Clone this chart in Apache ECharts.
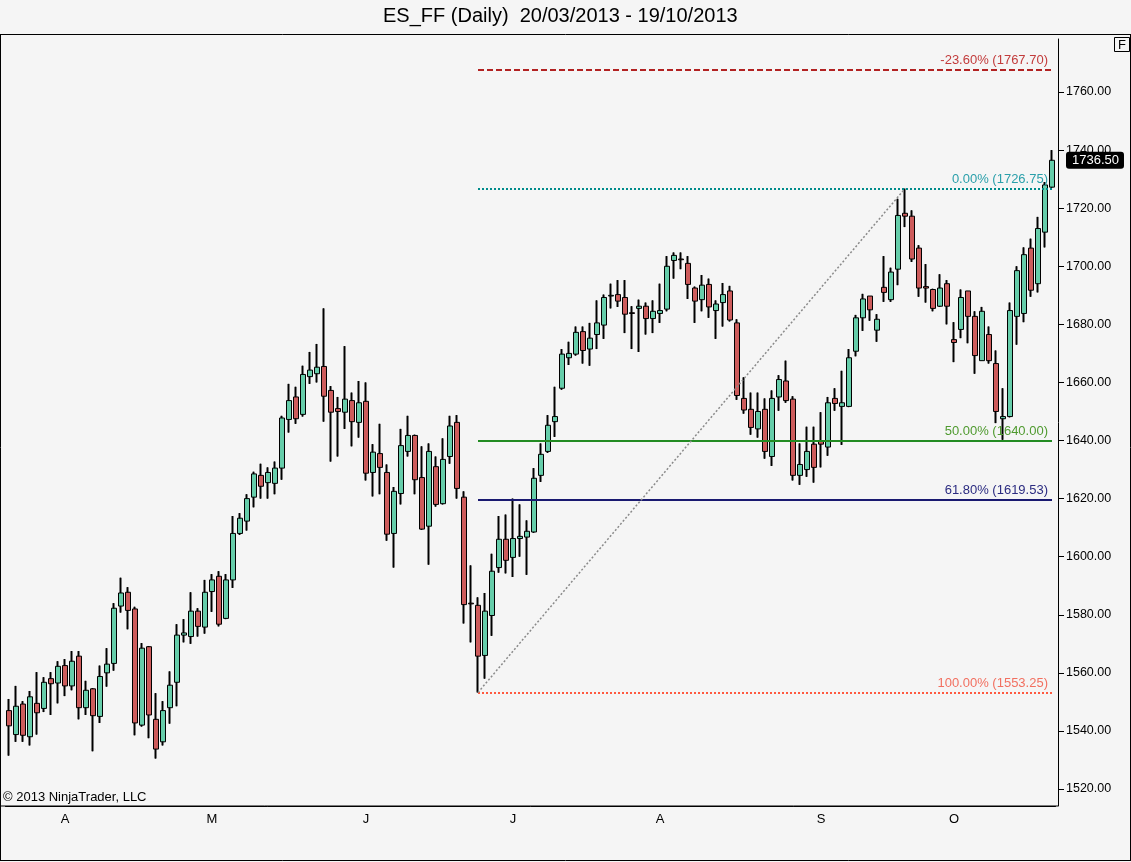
<!DOCTYPE html>
<html>
<head>
<meta charset="utf-8">
<title>ES_FF (Daily)</title>
<script src="https://cdn.jsdelivr.net/npm/echarts@6/dist/echarts.min.js"></script>
<style>
  html, body { margin: 0; padding: 0; background: #f5f5f5; }
  #chart { width: 1131px; height: 862px; }
</style>
</head>
<body>
<div id="chart"></div>
<script>
// daily OHLC, 20/03/2013 .. 18/10/2013
const opens = [
  1547, 1538.75, 1549.25, 1538, 1549.5, 1547.75, 1558, 1556.5, 1562.5, 1555.5,
  1565.75, 1548, 1554.5, 1545, 1560, 1563.25, 1583, 1587.75, 1582, 1542,
  1569, 1544, 1536.25, 1548, 1556.75, 1573, 1572.5, 1581.25, 1575.75, 1588,
  1593.25, 1578.75, 1592, 1608, 1612.25, 1620.5, 1628, 1625.5, 1625.25, 1630.5,
  1647.25, 1655, 1649, 1662, 1663, 1665.5, 1657.25, 1651, 1649.75, 1653.75,
  1646.25, 1653.5, 1629, 1635.5, 1629, 1608, 1621.75, 1636.25, 1641.75, 1627.25,
  1610.5, 1631, 1618.25, 1634.5, 1646.25, 1620.5, 1584, 1583.25, 1566, 1579.75,
  1596.25, 1606, 1599.75, 1606.25, 1606.75, 1608.5, 1628, 1636.25, 1646.5, 1658,
  1668.5, 1669.75, 1677.5, 1671.5, 1676.5, 1679.75, 1689.75, 1690.25, 1689.25, 1684,
  1685.5, 1686.25, 1682, 1683.75, 1685.25, 1702, 1702.5, 1701, 1692.5, 1688.5,
  1693.75, 1684.75, 1687.5, 1691.5, 1680.5, 1654.5, 1650.75, 1644, 1650.75, 1634.5,
  1655, 1660.5, 1654.25, 1628, 1630, 1638.75, 1640, 1637.75, 1654.5, 1651.75,
  1651.75, 1670.75, 1682.25, 1689.75, 1678, 1692.75, 1688.5, 1699, 1718.25, 1717.25,
  1706.25, 1693, 1692, 1686.25, 1694, 1674.75, 1678.25, 1691.5, 1682.75, 1667.5,
  1676.5, 1666.5, 1647.5, 1648.25, 1682.75, 1683.75, 1706.25, 1694, 1711.75, 1727.25
];
const highs = [
  1551, 1555.5, 1550.25, 1553.75, 1560.25, 1558.5, 1560.25, 1564, 1564.75, 1567.5,
  1567.5, 1557.25, 1554.75, 1562.5, 1568.5, 1584, 1592.75, 1589.5, 1582.75, 1570.25,
  1569.25, 1553, 1550.25, 1560.5, 1576.75, 1578.5, 1587.75, 1582.25, 1592, 1594,
  1595, 1594, 1614, 1615, 1621.5, 1629.25, 1632, 1630.75, 1632.75, 1648.5,
  1659.5, 1658.5, 1665.75, 1670.5, 1673.25, 1685.5, 1658.75, 1655, 1672.5, 1656.5,
  1660.5, 1660, 1638.75, 1645.75, 1631.75, 1624, 1644, 1648.5, 1642, 1638,
  1639, 1634.5, 1640.75, 1648.5, 1648.75, 1622.5, 1597, 1586, 1587.5, 1601,
  1614, 1614.5, 1620, 1618, 1612.5, 1630.5, 1639, 1648.75, 1658.5, 1671.5,
  1674, 1679.25, 1679.25, 1680.5, 1688.25, 1690.25, 1694, 1695.25, 1695.25, 1686.25,
  1688.5, 1687.5, 1688.25, 1694, 1703.5, 1704.75, 1704.75, 1703.5, 1693, 1697,
  1695.75, 1688.25, 1694.25, 1693.25, 1681.75, 1661.75, 1656.5, 1656.5, 1654.5, 1657.25,
  1662.5, 1667.5, 1655.25, 1639, 1644.75, 1644.75, 1649.75, 1655, 1658, 1664,
  1671.5, 1683.25, 1690.5, 1689.75, 1683.5, 1703.5, 1699.5, 1723.25, 1726.75, 1719.25,
  1707.25, 1700.75, 1692.25, 1697.25, 1695.25, 1680.75, 1692, 1691.5, 1684.5, 1686,
  1679.25, 1671, 1658, 1687.5, 1700, 1706.5, 1709.5, 1717, 1729, 1740
];
const lows = [
  1531.5, 1536.25, 1536.25, 1535, 1538.75, 1546.5, 1545.5, 1549.5, 1552, 1554,
  1544, 1545.5, 1533, 1542.75, 1555.25, 1560.75, 1580.75, 1575, 1538.5, 1541.5,
  1537.5, 1530.5, 1535, 1542.5, 1548.5, 1570.5, 1570, 1572.5, 1573.5, 1581,
  1576, 1578.5, 1589.25, 1607.5, 1609, 1617, 1620, 1620, 1621.5, 1626.5,
  1642.75, 1645.75, 1648.25, 1659.5, 1660, 1646.5, 1632.75, 1634.5, 1644, 1638,
  1641, 1626.25, 1620.75, 1621.5, 1605.5, 1596.25, 1618, 1634.5, 1621.5, 1609.25,
  1597.25, 1617.25, 1618, 1632, 1620, 1577, 1570.5, 1553.25, 1558, 1572.75,
  1594.5, 1594.25, 1593, 1600, 1593.75, 1608.25, 1625.75, 1635.75, 1641.25, 1657.5,
  1666, 1669.25, 1666.5, 1665.75, 1671.5, 1675, 1685.5, 1686, 1677, 1671.5,
  1670.5, 1676.5, 1677, 1680.5, 1684.5, 1695.75, 1699, 1688.75, 1680.5, 1684.5,
  1682.25, 1675, 1679.25, 1681, 1654, 1649.25, 1642, 1641, 1633.75, 1631.25,
  1650.25, 1653, 1626.25, 1624.75, 1627.5, 1625.5, 1630.75, 1634.75, 1650.25, 1638.5,
  1651.5, 1669, 1677.75, 1681.25, 1674, 1687.75, 1687.75, 1693.5, 1713.5, 1701.5,
  1689.5, 1687.5, 1684.5, 1686, 1680, 1667, 1675.25, 1673.5, 1663, 1667.5,
  1666.5, 1646, 1640.25, 1648, 1673, 1680.75, 1689.5, 1691, 1706.5, 1727
];
const closes = [
  1541.75, 1548.5, 1538.5, 1551.75, 1546.25, 1556.75, 1556.25, 1562.25, 1555.5, 1564,
  1548, 1554, 1545.25, 1558.75, 1563, 1582.25, 1587.5, 1581.5, 1542.75, 1568.5,
  1545.5, 1533.75, 1547, 1555.75, 1573, 1573.75, 1581.25, 1576, 1587.75, 1592,
  1576.75, 1592, 1608, 1613.25, 1620, 1628.5, 1624.25, 1629, 1630.5, 1647.75,
  1653.75, 1647.5, 1662.75, 1664.25, 1665.25, 1655.25, 1649.75, 1650, 1654.25, 1646.5,
  1653, 1628.75, 1636, 1630.75, 1607.75, 1622.5, 1638.25, 1641.75, 1626.5, 1609.5,
  1636.25, 1618, 1633.5, 1645, 1623.5, 1583.5, 1583.75, 1565.75, 1581.25, 1595,
  1606, 1598.75, 1606.25, 1607, 1608.75, 1627, 1635.25, 1645.25, 1648.25, 1669.75,
  1670, 1677.25, 1671, 1675.25, 1680.5, 1689.25, 1690, 1688, 1683.5, 1683.75,
  1686.25, 1682, 1684.5, 1684.75, 1700, 1703.75, 1702.25, 1693.75, 1688, 1693.5,
  1686, 1687, 1690.25, 1681.5, 1655.5, 1650.5, 1644.5, 1650, 1636.25, 1654.5,
  1661, 1653.75, 1628, 1631.75, 1636.25, 1630.75, 1638.75, 1653, 1652.75, 1653,
  1668.5, 1682.25, 1688.75, 1685, 1681.75, 1691, 1698, 1717.5, 1717.25, 1702.5,
  1692.5, 1692.5, 1685.5, 1692.5, 1686.25, 1673.75, 1689.25, 1682.75, 1669.25, 1684.5,
  1667.5, 1650, 1648.25, 1684.75, 1698.5, 1704, 1691.75, 1713, 1728, 1736.5
];

// first bar of each month -> axis letter
const monthStarts = { 8: 'A', 29: 'M', 51: 'J', 72: 'J', 93: 'A', 116: 'S', 135: 'O' };
const yTicks = [1520, 1540, 1560, 1580, 1600, 1620, 1640, 1660, 1680, 1700, 1720, 1740, 1760];

// fibonacci retracement drawn from the June low to the September high
const swingLowBar = 67, swingHighBar = 128;
const swingLow = 1553.25, swingHigh = 1726.75;
const fibPct = [-23.6, 0, 50, 61.8, 100];
const fibValue = [1767.70, 1726.75, 1640.00, 1619.53, 1553.25];
const lastClose = 1736.5;

const FONT = 'Liberation Sans, Arial, sans-serif';
const categories = opens.map((_, i) => String(i));
const ohlc = opens.map((o, i) => [o, closes[i], lows[i], highs[i]]);

const fibStyle = [
  { line: '#b22222', text: '#c23b3b', type: [6, 3] },
  { line: '#008b8b', text: '#2a9faa', type: [2, 2] },
  { line: '#228b22', text: '#4f9a2f', type: 'solid' },
  { line: '#191970', text: '#2b2b80', type: 'solid' },
  { line: '#ff5a40', text: '#f27060', type: [2, 2] }
];

const fibLines = fibPct.map((p, k) => [
  {
    coord: [swingLowBar, fibValue[k]],
    lineStyle: { color: fibStyle[k].line, type: fibStyle[k].type, width: 2 },
    label: {
      show: true,
      position: 'insideEndTop',
      distance: [4, 3],
      formatter: p.toFixed(2) + '% (' + fibValue[k].toFixed(2) + ')',
      color: fibStyle[k].text,
      fontSize: 13,
      fontFamily: FONT
    }
  },
  { coord: [categories.length - 1, fibValue[k]] }
]);

fibLines.push([
  {
    coord: [swingLowBar, swingLow],
    lineStyle: { color: '#8a8a8a', type: [2, 2], width: 1.5 },
    label: { show: false }
  },
  { coord: [swingHighBar, swingHigh] }
]);

const chart = echarts.init(document.getElementById('chart'));

const isMonthStart = (i) => monthStarts[i] !== undefined;

chart.setOption({
  animation: false,
  backgroundColor: '#f5f5f5',
  title: [
    {
      text: 'ES_FF (Daily)  20/03/2013 - 19/10/2013',
      left: 383,
      top: 6,
      padding: 0,
      textStyle: { fontSize: 20, fontWeight: 'normal', color: '#000', fontFamily: FONT }
    },
    {
      text: '© 2013 NinjaTrader, LLC',
      left: 3,
      top: 791,
      padding: 0,
      textStyle: { fontSize: 13, fontWeight: 'normal', color: '#000', fontFamily: FONT }
    }
  ],
  grid: { left: 5.5, right: 75.5, top: 39, bottom: 56, containLabel: false },
  xAxis: {
    type: 'category',
    data: categories,
    boundaryGap: true,
    axisLine: { lineStyle: { color: '#000', width: 1 } },
    axisTick: { interval: isMonthStart, alignWithLabel: true, length: 5, lineStyle: { color: '#000' } },
    axisLabel: {
      interval: isMonthStart,
      formatter: (v, i) => monthStarts[i] || '',
      color: '#000',
      fontSize: 13,
      margin: 7,
      fontFamily: FONT
    },
    splitLine: { show: false }
  },
  yAxis: {
    type: 'value',
    position: 'right',
    offset: 2.5,
    min: 1514.15,
    max: 1778.26,
    scale: true,
    axisLine: { show: true, lineStyle: { color: '#000', width: 1 } },
    axisTick: { show: true, length: 6, customValues: yTicks, lineStyle: { color: '#000' } },
    axisLabel: {
      customValues: yTicks,
      formatter: (v) => v.toFixed(2),
      color: '#000',
      fontSize: 12.5,
      margin: 8,
      fontFamily: FONT
    },
    splitLine: { show: false },
    axisPointer: {
      show: true,
      status: 'show',
      value: lastClose,
      triggerTooltip: false,
      type: 'line',
      lineStyle: { opacity: 0 },
      label: {
        show: true,
        formatter: (p) => Number(p.value).toFixed(2),
        backgroundColor: '#000',
        color: '#fff',
        fontSize: 13,
        fontFamily: FONT,
        padding: [2, 5, 2, 6],
        margin: 8
      }
    }
  },
  series: [
    {
      // wicks drawn 2px wide underneath the bodies
      name: 'wick',
      type: 'candlestick',
      data: ohlc,
      barWidth: 1,
      silent: true,
      itemStyle: { color: '#000', color0: '#000', borderColor: '#000', borderColor0: '#000', borderWidth: 2 }
    },
    {
      name: 'ES_FF',
      type: 'candlestick',
      data: ohlc,
      barWidth: 5,
      itemStyle: {
        color: '#66cdaa',
        color0: '#cd5c5c',
        borderColor: '#000',
        borderColor0: '#000',
        borderColorDoji: '#000',
        borderWidth: 1
      },
      markLine: {
        silent: true,
        symbol: 'none',
        animation: false,
        data: fibLines
      }
    }
  ],
  graphic: [
    { type: 'line', shape: { x1: 0, y1: 34.5, x2: 1131, y2: 34.5 }, style: { stroke: '#000', lineWidth: 1 } },
    { type: 'line', shape: { x1: 0.5, y1: 34, x2: 0.5, y2: 861 }, style: { stroke: '#000', lineWidth: 1 } },
    { type: 'line', shape: { x1: 1130.5, y1: 34, x2: 1130.5, y2: 861 }, style: { stroke: '#000', lineWidth: 1 } },
    { type: 'line', shape: { x1: 0, y1: 860.5, x2: 1131, y2: 860.5 }, style: { stroke: '#000', lineWidth: 1 } },
    { type: 'line', shape: { x1: 0, y1: 806, x2: 1058, y2: 806 }, style: { stroke: '#000', lineWidth: 1 } },
    { type: 'rect', shape: { x: 1114.5, y: 37.5, width: 15, height: 14 }, style: { fill: 'none', stroke: '#000', lineWidth: 1 } },
    { type: 'text', x: 1122, y: 45, style: { text: 'F', fontSize: 13, fontFamily: FONT, fill: '#000', align: 'center', verticalAlign: 'middle' } }
  ]
});
</script>
</body>
</html>
